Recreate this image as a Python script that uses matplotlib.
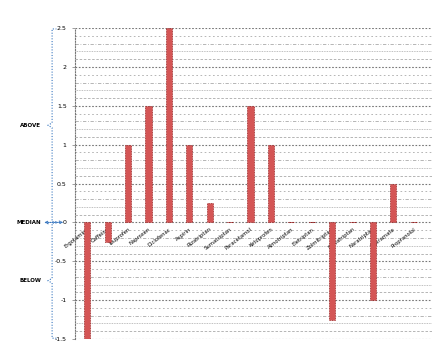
import matplotlib
matplotlib.use("Agg")
import matplotlib.pyplot as plt
import matplotlib.transforms as mtransforms
import numpy as np

drugs = ["Ergotamine", "Caffeine", "Ibuprofen", "Naproxen", "Diclofenac", "Aspirin",
         "Rizatriptan", "Sumatriptan", "Paracetamol", "Ketoprofen", "Almotriptan",
         "Eletriptan", "Zolmitriptan", "Frovatriptan", "Naratriptan", "Topiramate",
         "Propranolol"]
scores = [-1.5, -0.25, 1.0, 1.5, 2.5, 1.0, 0.25, 0.0, 1.5, 1.0, 0.0, 0.0,
          -1.25, 0.0, -1.0, 0.5, 0.0]
yticks = [-1.5, -1, -0.5, 0, 0.5, 1, 1.5, 2, 2.5]
ytick_labels = ["-1.5", "-1", "-0.5", "0", "0.5", "1", "1.5", "2", "2.5"]
groups = [("ABOVE", 0, 2.5), ("BELOW", -1.5, 0)]

fig = plt.figure(figsize=(4.41, 3.52), dpi=100)
ax = fig.add_axes([0.170, 0.037, 0.810, 0.883])

x = np.arange(len(drugs))

# x axis runs along zero, set before the tick labels
ax.spines["bottom"].set_position(("data", 0))
ax.spines["bottom"].set_visible(False)
for s in ["top", "right"]:
    ax.spines[s].set_visible(False)
ax.spines["left"].set_linestyle((0, (1, 1.5)))
ax.spines["left"].set_color("#777777")
ax.spines["left"].set_linewidth(0.8)

ax.set_xlim(-0.6, len(drugs) - 0.1)
ax.set_ylim(-1.5, 2.5)

# fine grid every 0.1 with mixed line styles
styles = [(0, (1, 2)), (0, (3, 2)), (0, (1, 1)), (0, (4, 2, 1, 2)), (0, (2, 3))]
for i, yv in enumerate(np.arange(-1.5, 2.51, 0.1)):
    if abs(yv - round(yv * 2) / 2) < 1e-6:
        ax.axhline(yv, color="#777777", lw=0.8, ls=(0, (1.5, 1.5)), zorder=1)
    else:
        ax.axhline(yv, color="#aaaaaa", lw=0.6, ls=styles[i % len(styles)], zorder=1)

ax.bar(x, scores, width=0.3, color="#d45555", edgecolor="#992222",
       linewidth=0.6, linestyle=(0, (1, 1)), zorder=3)

ax.set_yticks(yticks)
ax.set_yticklabels(ytick_labels, fontsize=4.5)
ax.set_xticks(x)
ax.set_xticklabels(drugs, rotation=38, ha="right", rotation_mode="anchor",
                   fontsize=3.8)
ax.tick_params(axis="x", length=0, pad=3)
ax.tick_params(axis="y", length=2, width=0.5, pad=4, color="#777777")

# braces on the left
trans = mtransforms.blended_transform_factory(ax.transAxes, ax.transData)
bx = -0.064
blue = "#3a78c0"
for name, lo, hi in groups:
    mid = (lo + hi) / 2
    ax.plot([bx + 0.012, bx, bx, bx - 0.012, bx, bx, bx + 0.012],
            [lo + 0.01, lo + 0.01, mid - 0.03, mid, mid + 0.03, hi - 0.01, hi - 0.01],
            transform=trans, color=blue, lw=0.8, ls=(0, (1, 1.5)), clip_on=False)
    ax.text(bx - 0.03, mid, name, transform=trans, fontsize=4, ha="right",
            va="center", fontweight="bold")
ax.annotate("", xy=(-0.025, 0), xytext=(bx - 0.03, 0), xycoords=trans,
            textcoords=trans,
            arrowprops=dict(arrowstyle="<->", color=blue, lw=0.8, ls=(0, (1, 1)),
                            mutation_scale=5))
ax.text(bx - 0.03, 0, "MEDIAN", transform=trans, fontsize=4, ha="right",
        va="center", fontweight="bold")

fig.savefig("out.png", dpi=100)
